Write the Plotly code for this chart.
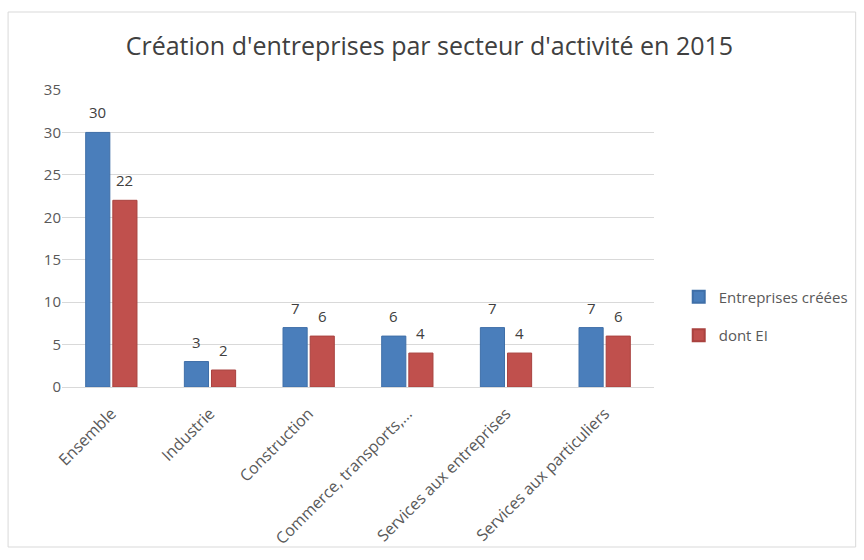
import plotly.graph_objects as go

categories = ["Ensemble", "Industrie", "Construction", "Commerce, transports,...",
              "Services aux entreprises", "Services aux particuliers"]
entreprises_creees = [30, 3, 7, 6, 7, 7]
dont_ei = [22, 2, 6, 4, 4, 6]
y_ticks = [0, 5, 10, 15, 20, 25, 30, 35]

FONT = "Open Sans"
GREY = "#595959"
LABEL = "#404040"

fig = go.Figure()
fig.add_trace(go.Bar(
    x=categories, y=entreprises_creees, name="Entreprises créées",
    legendgroup="a",
    marker=dict(color="#4a7ebb", line=dict(color="#3f6fa8", width=1)),
))
fig.add_trace(go.Bar(
    x=categories, y=dont_ei, name="dont EI",
    legendgroup="b",
    marker=dict(color="#c0504d", line=dict(color="#a9423f", width=1)),
))

# value labels above each bar (blue bars left of the category centre, red right)
for values, dx in ((entreprises_creees, -13.6), (dont_ei, 13.6)):
    for cat, v in zip(categories, values):
        fig.add_annotation(x=cat, y=v, text=str(v), showarrow=False,
                           xshift=dx, yshift=20, yanchor="middle",
                           font=dict(color=LABEL, size=15, family=FONT))

fig.update_layout(
    width=864, height=560,
    margin=dict(l=62, r=209, t=90, b=173),
    paper_bgcolor="white", plot_bgcolor="white",
    barmode="group", bargap=0.45, bargroupgap=0.11,
    title=dict(text="Création d'entreprises par secteur d'activité en 2015",
               x=0.497, xanchor="center", y=0.918, yanchor="middle",
               font=dict(family=FONT, size=25, color="#404040")),
    font=dict(family=FONT, color=GREY, size=15),
    legend=dict(x=1.04, xanchor="left", y=0.239, yanchor="middle",
                font=dict(size=15, color=GREY), tracegroupgap=16,
                traceorder="grouped",
                itemsizing="constant", bgcolor="rgba(0,0,0,0)"),
    showlegend=True,
)
fig.update_yaxes(range=[0, 35], tickvals=y_ticks, showgrid=True,
                 gridcolor="#d9d9d9", gridwidth=1, zeroline=False,
                 showline=False, ticks="", tickfont=dict(size=15, color=GREY))
fig.update_xaxes(tickangle=-45, showline=True, linecolor="#d9d9d9",
                 ticks="", ticklabelstandoff=10,
                 tickfont=dict(size=16, color=GREY))

# light frame around the whole chart area
fig.add_shape(type="rect", xref="paper", yref="paper",
              x0=-54 / 593, x1=1 + 202 / 593, y0=-160 / 297, y1=1 + 78 / 297,
              line=dict(color="#d9d9d9", width=1), fillcolor="rgba(0,0,0,0)",
              layer="below")

fig.write_html("out.html")
